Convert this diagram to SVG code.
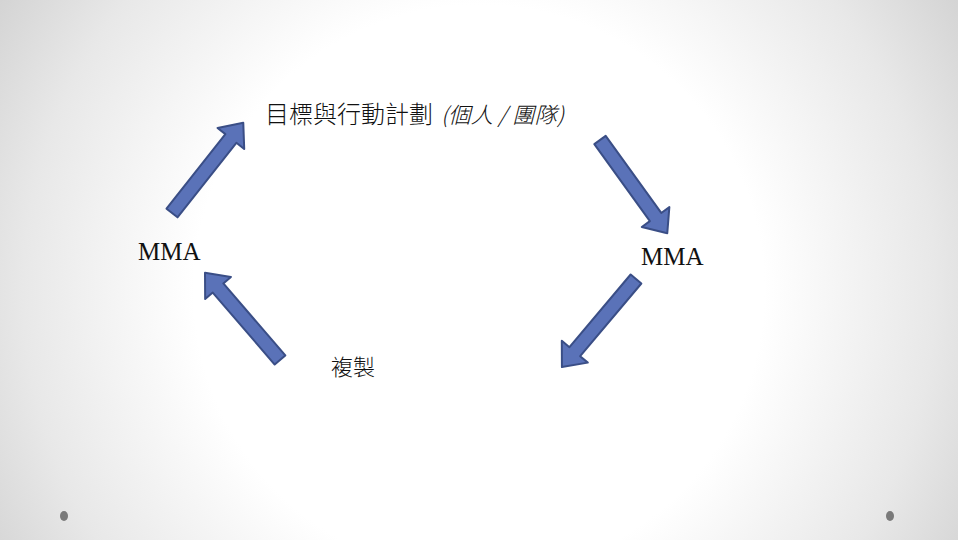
<svg xmlns="http://www.w3.org/2000/svg" width="958" height="540" viewBox="0 0 958 540">
  <defs>
    <radialGradient id="bg" gradientUnits="userSpaceOnUse" cx="479" cy="290" r="570">
      <stop offset="0" stop-color="#ffffff"/>
      <stop offset="0.5" stop-color="#ffffff"/>
      <stop offset="0.8" stop-color="#e8e8e8"/>
      <stop offset="1" stop-color="#d2d2d2"/>
    </radialGradient>
    <polygon id="arrow" points="0,-7 95,-7 95,-17 115,0 95,17 95,7 0,7"/>
  </defs>
  <style>
    .arr { fill: #5a72b8; stroke: #3a4e86; stroke-width: 2; stroke-linejoin: round; }
    .cjk { font-family: "Noto Sans CJK TC", "Noto Sans CJK SC", sans-serif; font-weight: 300; fill: #111111; }
    .lat { font-family: "Liberation Serif", serif; fill: #111111; font-size: 25px; }
    .dot { fill: #7a7a7a; }
  </style>
  <rect width="958" height="540" fill="url(#bg)"/>
  <ellipse class="dot" cx="64" cy="516" rx="4" ry="5"/>
  <ellipse class="dot" cx="890" cy="516" rx="4" ry="5"/>

  <g id="connectors">
    <use href="#arrow" class="arr" transform="translate(172,213) rotate(-51.7)"/>
    <use href="#arrow" class="arr" transform="translate(600,140) rotate(54.2)"/>
    <use href="#arrow" class="arr" transform="translate(636,279) rotate(130.1)"/>
    <use href="#arrow" class="arr" transform="translate(280,360) rotate(-130.7)"/>
  </g>

  <g id="node-goal">
    <text class="cjk" x="265" y="123" font-size="24">目標與行動計劃</text>
    <text class="cjk" x="441" y="123" font-size="22" font-style="italic" textLength="123" lengthAdjust="spacingAndGlyphs">(個人 / 團隊)</text>
  </g>
  <g id="node-mma-left">
    <text class="lat" x="138" y="260">MMA</text>
  </g>
  <g id="node-mma-right">
    <text class="lat" x="641" y="265">MMA</text>
  </g>
  <g id="node-copy">
    <text class="cjk" x="331" y="375" font-size="22">複製</text>
  </g>
</svg>
